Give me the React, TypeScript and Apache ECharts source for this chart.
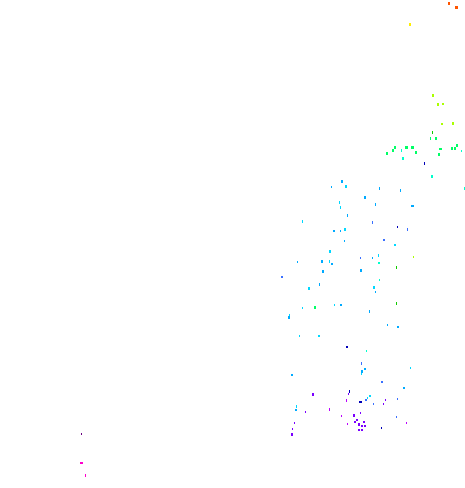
import React, { useEffect, useRef } from "react";
import * as echarts from "echarts";

// x position values (left edge of each mark as read)
const xs = [
  448, 455, 409, 432, 437, 442, 441, 452, 432, 430, 435, 394, 405, 411, 401, 392, 386, 415, 439, 438,
  451, 454, 456, 461, 402, 424, 431, 464, 341, 345, 331, 379, 400, 364, 339, 375, 411, 340, 347, 302,
  372, 397, 407, 333, 340, 344, 383, 344, 394, 329, 378, 413, 297, 321, 329, 360, 372, 331, 378, 396,
  322, 360, 281, 379, 319, 308, 373, 375, 396, 314, 302, 334, 340, 369, 288, 289, 387, 397, 299, 318,
  346, 366, 361, 364, 361, 361, 410, 291, 381, 403, 312, 349, 348, 369, 367, 365, 385, 397, 346, 359,
  373, 383, 296, 295, 305, 329, 353, 360, 341, 396, 356, 354, 358, 363, 347, 361, 364, 294, 406, 381,
  292, 291, 358, 361, 81, 80, 85,
];
// y (depth) values (top edge of each mark as read)
const ys = [
  2, 6, 23, 94, 103, 103, 123, 122, 131, 137, 137, 146, 146, 146, 149, 149, 152, 151, 148, 153,
  147, 147, 144, 150, 157, 162, 175, 187, 180, 185, 186, 187, 189, 196, 201, 203, 205, 206, 214, 220,
  221, 226, 228, 230, 230, 228, 239, 240, 244, 250, 254, 256, 261, 260, 260, 257, 257, 263, 262, 266,
  270, 269, 276, 279, 283, 287, 286, 291, 302, 306, 307, 304, 304, 310, 316, 314, 324, 326, 335, 335,
  346, 350, 362, 368, 370, 373, 367, 374, 381, 387, 393, 390, 393, 395, 397, 399, 399, 398, 399, 401,
  403, 403, 405, 409, 411, 408, 414, 412, 415, 416, 419, 421, 423, 421, 423, 425, 425, 422, 422, 427,
  428, 433, 429, 429, 433, 462, 474,
];
// colour class per point
const tones = [
  13, 13, 12, 11, 11, 11, 11, 11, 10, 9, 9, 9, 9, 9, 8, 9, 9, 9, 9, 9,
  9, 9, 9, 8, 8, 4, 8, 8, 6, 7, 6, 6, 6, 6, 7, 6, 6, 7, 6, 7,
  5, 4, 5, 6, 6, 7, 5, 6, 7, 7, 7, 11, 6, 6, 7, 5, 6, 6, 8, 10,
  6, 6, 5, 8, 6, 7, 7, 6, 10, 9, 7, 7, 6, 6, 6, 7, 6, 6, 7, 7,
  4, 8, 5, 6, 6, 7, 7, 6, 5, 6, 3, 4, 3, 7, 7, 5, 3, 5, 2, 4,
  5, 3, 7, 6, 3, 2, 3, 3, 2, 5, 3, 3, 3, 3, 2, 3, 3, 3, 2, 4,
  3, 3, 3, 3, 1, 0, 0,
];
// magnitude class per point
const mags = [
  3, 5, 3, 3, 3, 2, 2, 3, 1, 1, 3, 3, 5, 5, 1, 3, 3, 3, 4, 3,
  3, 3, 3, 0, 3, 1, 3, 1, 3, 3, 0, 1, 1, 3, 1, 1, 4, 1, 1, 1,
  1, 0, 1, 2, 0, 3, 2, 0, 2, 3, 1, 0, 0, 3, 1, 0, 0, 2, 2, 1,
  3, 3, 2, 0, 1, 3, 3, 0, 1, 3, 0, 0, 2, 1, 3, 0, 0, 2, 0, 2,
  2, 0, 1, 2, 3, 0, 0, 2, 2, 2, 3, 1, 0, 2, 0, 2, 0, 0, 1, 4,
  0, 0, 1, 2, 0, 1, 3, 0, 0, 0, 2, 2, 3, 2, 0, 2, 2, 0, 0, 0,
  0, 3, 2, 2, 0, 4, 1,
];

const palette = [
  "#ff00cc", "#6a0080", "#bb00ff", "#7a00ff", "#0000b8", "#3a70ff", "#00aaff",
  "#00d8ff", "#00ffcc", "#00ff66", "#11cc00", "#aaff00", "#ffee00", "#ff5500",
];
const shapes = [[1, 2], [1, 3], [2, 2], [2, 3], [3, 2], [3, 3]];

export default function App() {
  const ref = useRef<HTMLDivElement>(null);
  useEffect(() => {
    if (!ref.current) return;
    const chart = echarts.init(ref.current, null, { renderer: "svg" });
    const data = xs.map((x, i) => {
      const s = shapes[mags[i]];
      return [x + s[0] / 2, ys[i] + s[1] / 2, tones[i], mags[i]];
    });
    chart.setOption({
      animation: false,
      backgroundColor: "#ffffff",
      grid: { left: 0, right: 0, top: 0, bottom: 0 },
      xAxis: { type: "value", min: 0, max: 465, show: false },
      yAxis: { type: "value", min: 0, max: 488, inverse: true, show: false },
      visualMap: {
        type: "piecewise",
        show: false,
        dimension: 2,
        pieces: palette.map((c, i) => ({ value: i, color: c })),
      },
      series: [
        {
          type: "scatter",
          symbol: "rect",
          symbolSize: (v: number[]) => shapes[v[3]],
          data,
          itemStyle: { opacity: 1 },
        },
      ],
    });
    return () => chart.dispose();
  }, []);
  return (
    <div
      ref={ref}
      style={{ position: "fixed", left: 0, top: 0, width: 465, height: 488 }}
    />
  );
}
